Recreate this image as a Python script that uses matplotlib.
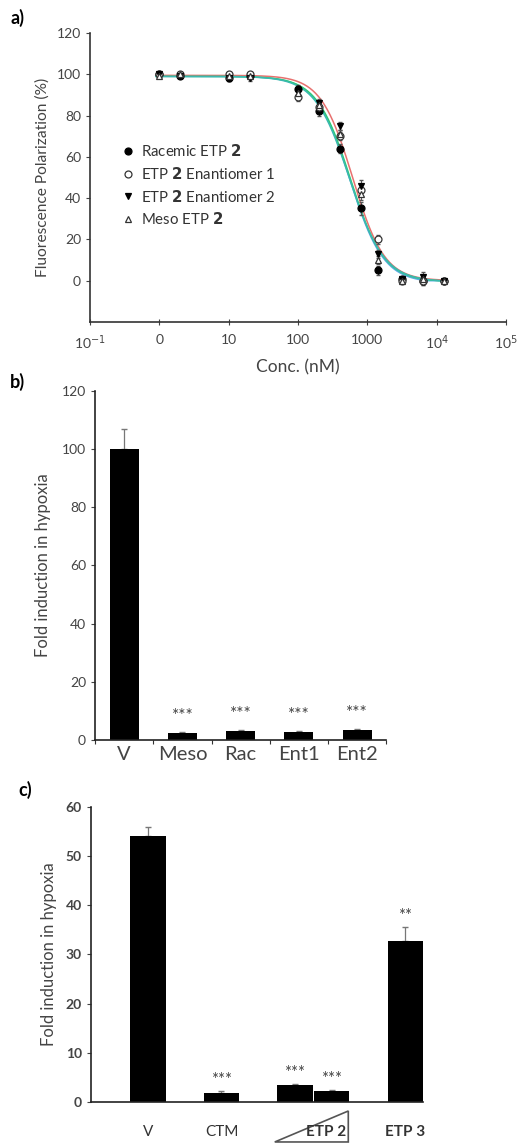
import numpy as np
import matplotlib
matplotlib.use("Agg")
import matplotlib.pyplot as plt
import matplotlib.transforms as mtransforms
from matplotlib.patches import Polygon

plt.rcParams['font.family'] = ['Lato', 'DejaVu Sans']
plt.rcParams['axes.linewidth'] = 1.2

# ---- panel a data: FP competition curves ----
conc_a = [1, 2, 10, 20, 100, 200, 400, 800, 1400, 3200, 6400, 12800]
fp_racemic = [100, 99, 98, 99, 93, 82, 64, 35, 5, 1, 0, 0]
fp_enant1 = [100, 100, 100, 100, 89, 84, 70, 44, 20, 0, 0, 0]
fp_enant2 = [100, 99, 98, 98, 92, 86, 75, 46, 13, 1, 2, 0]
fp_meso = [99, 100, 99, 99, 91, 85, 71, 42, 10, 0, 1, 0]
fp_err = [1, 1, 1, 1, 2, 2, 2, 3, 2, 1, 2, 1]
series_names = ['Racemic ETP $\\mathbf{2}$', 'ETP $\\mathbf{2}$ Enantiomer 1',
                'ETP $\\mathbf{2}$ Enantiomer 2', 'Meso ETP $\\mathbf{2}$']
# fitted 4PL parameters: top, bottom, IC50 (nM), hill
fit_params = [(99, -1.0, 560, 1.8), (99.5, 0.0, 615, 1.9),
              (99, -0.5, 570, 1.8), (99, -0.5, 555, 1.75)]
fit_colors = ['#5aa9e6', '#e8716f', '#2ecc71', '#3bb8b0']
xtick_vals_a = [0.1, 1, 10, 100, 1000, 1e4, 1e5]
xtick_labels_a = ['10$^{-1}$', '0', '10', '100', '1000', '10$^{4}$', '10$^{5}$']

# ---- panel b data ----
cats_b = ['V', 'Meso', 'Rac', 'Ent1', 'Ent2']
vals_b = [100, 2.5, 3.0, 2.8, 3.5]
errs_b = [7, 0.2, 0.3, 0.2, 0.3]
stars_b = ['', '***', '***', '***', '***']

# ---- panel c data ----
cats_c = ['V', 'CTM', 'ETP 2 low', 'ETP 2 high', 'ETP 3']
vals_c = [54, 1.8, 3.4, 2.3, 32.8]
errs_c = [1.9, 0.4, 0.2, 0.2, 2.8]
stars_c = ['', '***', '***', '***', '**']

tick_col = '#444444'
fig = plt.figure(figsize=(5.17, 11.43), dpi=100)

# ================= panel a =================
axa = fig.add_axes([0.174, 0.7183, 0.805, 0.2528])
markers = [dict(marker='o', mfc='black', mec='black'),
           dict(marker='o', mfc='white', mec='#333333'),
           dict(marker='v', mfc='black', mec='black'),
           dict(marker='^', mfc='white', mec='#333333')]
xfit = np.logspace(np.log10(0.9), np.log10(14000), 300)
for (top, bot, ic50, hill), col in zip(fit_params, fit_colors):
    yfit = bot + (top - bot) / (1 + (xfit / ic50) ** hill)
    axa.plot(xfit, np.clip(yfit, 0, None), color=col, lw=1.1, zorder=2)
handles = []
for vals, name, mk in zip([fp_racemic, fp_enant1, fp_enant2, fp_meso], series_names, markers):
    axa.errorbar(conc_a, vals, yerr=fp_err, fmt='none', ecolor='#555555', elinewidth=0.8,
                 capsize=1.5, zorder=3)
    h, = axa.plot(conc_a, vals, linestyle='none', markersize=5, mew=0.9, zorder=4, **mk)
    handles.append(h)
axa.set_xscale('log')
axa.set_xlim(0.1, 1e5)
axa.set_ylim(-20, 120)
axa.set_yticks([0, 20, 40, 60, 80, 100, 120])
axa.set_xticks(xtick_vals_a)
axa.set_xticklabels(xtick_labels_a)
axa.minorticks_off()
axa.tick_params(axis='x', direction='inout', length=5, labelsize=10, colors=tick_col, pad=6)
axa.tick_params(axis='y', direction='out', length=3, labelsize=10, colors=tick_col)
for s in ['top', 'right']:
    axa.spines[s].set_visible(False)
for s in ['left', 'bottom']:
    axa.spines[s].set_color('#333333')
axa.set_xlabel('Conc. (nM)', fontsize=12.5, color=tick_col, labelpad=5)
axa.set_ylabel('Fluorescence Polarization (%)', fontsize=11.2, color=tick_col, labelpad=5)
leg = axa.legend(handles, series_names, loc='upper left', bbox_to_anchor=(0.06, 0.64),
                 frameon=False, fontsize=10.8, handletextpad=0.35, labelspacing=0.45,
                 borderaxespad=0, handlelength=1.0)
for t in leg.get_texts():
    t.set_color('#333333')

# ================= panel b =================
axb = fig.add_axes([0.184, 0.3526, 0.563, 0.3053])
xb = np.arange(len(cats_b)) + 0.5
axb.bar(xb, vals_b, width=0.5, color='black', zorder=2)
axb.errorbar(xb, vals_b, yerr=[np.zeros(len(errs_b)), errs_b], fmt='none', ecolor='#777777',
             elinewidth=0.9, capsize=2, zorder=1)
for x, v, e, s in zip(xb, vals_b, errs_b, stars_b):
    if s:
        axb.annotate(s, (x, v + e), xytext=(0, 6), textcoords='offset points',
                     ha='center', va='bottom', fontsize=12.5, color='#444444')
axb.set_xlim(0, len(cats_b))
axb.set_ylim(0, 120)
axb.set_yticks(range(0, 121, 20))
axb.set_xticks(np.arange(len(cats_b) + 1))
axb.set_xticklabels([])
axb.set_xticks(xb, minor=True)
axb.set_xticklabels(cats_b, minor=True)
axb.tick_params(axis='x', which='major', direction='out', length=3, colors='#333333')
axb.tick_params(axis='x', which='minor', length=0, labelsize=14.5, colors=tick_col, pad=4)
axb.tick_params(axis='y', direction='out', length=3, labelsize=10, colors=tick_col)
for s in ['top', 'right']:
    axb.spines[s].set_visible(False)
for s in ['left', 'bottom']:
    axb.spines[s].set_color('#222222')
axb.set_ylabel('Fold induction in hypoxia', fontsize=12, color=tick_col, labelpad=8)

# ================= panel c =================
axc = fig.add_axes([0.176, 0.0359, 0.642, 0.2581])
xc = np.array([0, 2, 4, 5, 7])
axc.bar(xc, vals_c, width=0.96, color='black', zorder=2)
axc.errorbar(xc, vals_c, yerr=[np.zeros(len(errs_c)), errs_c], fmt='none', ecolor='#777777',
             elinewidth=0.9, capsize=2, zorder=1)
for x, v, e, s in zip(xc, vals_c, errs_c, stars_c):
    if s:
        axc.annotate(s, (x, v + e), xytext=(0, 2), textcoords='offset points',
                     ha='center', va='bottom', fontsize=12, color='#444444')
axc.set_xlim(-1.55, 7.48)
axc.set_ylim(0, 60)
axc.set_yticks(range(0, 61, 10))
axc.set_xticks([])
axc.tick_params(axis='y', direction='out', length=3, labelsize=10, colors=tick_col)
for t in axc.get_yticklabels():
    t.set_fontweight('bold')
for s in ['top', 'right']:
    axc.spines[s].set_visible(False)
for s in ['left', 'bottom']:
    axc.spines[s].set_color('#222222')
axc.set_ylabel('Fold induction in hypoxia', fontsize=12, color=tick_col, labelpad=6)

# category labels and concentration wedge below axis
trans = mtransforms.blended_transform_factory(axc.transData, fig.transFigure)
lab_y = 0.0096
axc.text(0, lab_y, 'V', transform=trans, ha='center', va='center', fontsize=11, color='#333333')
axc.text(2, lab_y, 'CTM', transform=trans, ha='center', va='center', fontsize=11,
         color='#333333')
axc.text(7, lab_y, 'ETP 3', transform=trans, ha='center', va='center', fontsize=11,
         fontweight='bold', color='#333333')
wedge = Polygon([[3.45, 0.0009], [5.45, 0.028], [5.45, 0.0009]], closed=True,
                transform=trans, facecolor='none', edgecolor='#555555', lw=1.2, clip_on=False)
axc.add_patch(wedge)
axc.text(4.85, lab_y, 'ETP 2', transform=trans, ha='center', va='center', fontsize=11,
         fontweight='bold', color='#333333')

# panel letters
fig.text(0.02, 0.984, 'a)', fontsize=13, fontweight='bold', va='center')
fig.text(0.02, 0.666, 'b)', fontsize=13, fontweight='bold', va='center')
fig.text(0.035, 0.309, 'c)', fontsize=13, fontweight='bold', va='center')

fig.savefig('out.png', dpi=100)
